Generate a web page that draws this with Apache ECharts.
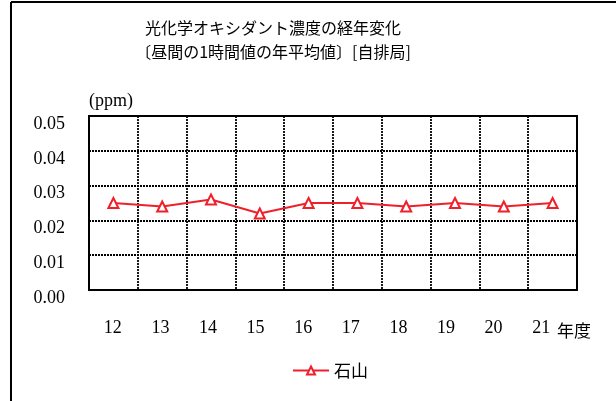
<!DOCTYPE html>
<html><head><meta charset="utf-8">
<script src="https://cdn.jsdelivr.net/npm/echarts@6/dist/echarts.min.js"></script>
<style>html,body{margin:0;padding:0;background:#fff}#c{width:616px;height:401px}</style>
</head><body><div id="c"></div>
<script>
const titleLine1 = '光化学オキシダント濃度の経年変化';
const titleLine2 = '〔昼間の1時間値の年平均値〕[自排局]';
const categories = ['12','13','14','15','16','17','18','19','20','21'];
const seriesName = '石山';
const values = [0.025, 0.024, 0.026, 0.022, 0.025, 0.025, 0.024, 0.025, 0.024, 0.025];
const yTicks = ['0.00','0.01','0.02','0.03','0.04','0.05'];
const yUnit = '(ppm)';
const xUnit = '年度';

const serif = '"Liberation Serif","DejaVu Serif",serif';
const jp = '"Noto Sans CJK JP","Noto Sans",sans-serif';
const chart = echarts.init(document.getElementById('c'));
chart.setOption({
  animation: false,
  backgroundColor: '#fff',
  title: {
    text: titleLine1 + '\n' + titleLine2,
    left: 268, top: 11, textAlign: 'center',
    textStyle: {fontFamily: jp, fontSize: 16, fontWeight: 'normal', color: '#000', lineHeight: 24}
  },
  legend: {
    data: [seriesName], top: 357, left: 287,
    itemWidth: 36, itemHeight: 10, itemGap: 6,
    textStyle: {fontFamily: jp, fontSize: 17, color: '#000'}
  },
  graphic: [
    {type: 'line', shape: {x1: 11, y1: 2, x2: 616, y2: 2}, style: {stroke: '#000', lineWidth: 2}},
    {type: 'line', shape: {x1: 11, y1: 2, x2: 11, y2: 401}, style: {stroke: '#000', lineWidth: 2}}
  ],
  grid: [
    {left: 89, top: 116, width: 488, height: 174, show: true, borderColor: '#000', borderWidth: 2},
    {left: 89, top: 116, width: 476, height: 174, show: false}
  ],
  xAxis: [{
    type: 'category', data: categories, gridIndex: 0, boundaryGap: true,
    axisLine: {lineStyle: {color: '#000', width: 2}},
    axisTick: {show: false},
    axisLabel: {show: false},
    splitLine: {show: true, lineStyle: {color: '#000', width: 1.8, type: [2, 1]}},
    name: xUnit, nameLocation: 'end', nameGap: -20,
    nameTextStyle: {fontFamily: jp, fontSize: 17, color: '#000', align: 'left', verticalAlign: 'top', lineHeight: 82}
  }, {
    type: 'category', data: categories, gridIndex: 1, boundaryGap: true,
    axisLine: {show: false}, axisTick: {show: false},
    axisLabel: {fontFamily: serif, fontSize: 18, color: '#000', margin: 29},
    splitLine: {show: false}
  }],
  yAxis: [{
    type: 'value', gridIndex: 0, min: 0, max: 0.05, interval: 0.01,
    axisLine: {show: true, lineStyle: {color: '#000', width: 2}},
    axisTick: {show: false},
    axisLabel: {fontFamily: serif, fontSize: 18, color: '#000', margin: 24,
      formatter: (v) => yTicks[Math.round(v / 0.01)], verticalAlign: 'top', lineHeight: 16},
    splitLine: {show: true, lineStyle: {color: '#000', width: 1.8, type: [2, 1]}},
    name: yUnit, nameLocation: 'end', nameGap: 15,
    nameTextStyle: {fontFamily: serif, fontSize: 18, color: '#000', align: 'left', verticalAlign: 'middle'}
  }, {
    type: 'value', gridIndex: 1, min: 0, max: 0.05, show: false
  }],
  series: [{
    name: seriesName, type: 'line', xAxisIndex: 0, yAxisIndex: 0, data: values,
    symbol: 'triangle', symbolSize: 10, showAllSymbol: true,
    lineStyle: {color: '#f0202a', width: 2},
    itemStyle: {color: '#fff', borderColor: '#f0202a', borderWidth: 2}
  }]
});
</script></body></html>
